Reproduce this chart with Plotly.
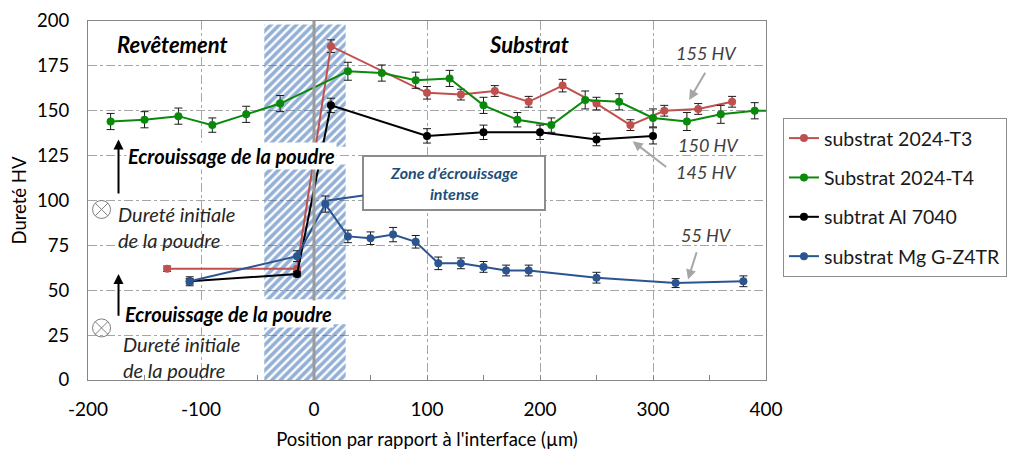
import plotly.graph_objects as go

# substrat 2024-T3
t3_x = [-130, -15, 15, 100, 130, 160, 190, 220, 250, 280, 310, 340, 370]
t3_y = [62, 62, 186, 160, 159, 161, 155, 164, 154, 142, 150, 151, 155]
t3_err = [1.5, 0, 3.5, 3.5, 3, 3, 3, 3.5, 3.5, 3, 3, 3, 3]

# Substrat 2024-T4
t4_x = [-180, -150, -120, -90, -60, -30, 30, 60, 90, 120, 150, 180, 210,
        240, 270, 300, 330, 360, 390, 420]
t4_y = [144, 145, 147, 142, 148, 154, 172, 171, 167, 168, 153, 145, 142,
        156, 155, 146, 144, 148, 150, 150]
t4_err = [4.5, 4.5, 4.5, 4, 4.5, 4.5, 5, 4.5, 4.5, 4.5, 4.5, 4, 4,
          5, 4.5, 5, 5, 5, 4.5, 4.5]

# subtrat Al 7040
al_x = [-110, -15, 15, 100, 150, 200, 250, 300]
al_y = [55, 59, 153, 136, 138, 138, 134, 136]
al_err = [1.5, 1.5, 4, 4, 4, 4, 3.5, 4.5]

# substrat Mg G-Z4TR
mg_x = [-110, -15, 10, 30, 50, 70, 90, 110, 130, 150, 170, 190, 250, 320, 380]
mg_y = [55, 69, 98, 80, 79, 81, 77, 65, 65, 63, 61, 61, 57, 54, 55]
mg_err = [2.5, 3, 4.5, 3.5, 3.5, 4, 3.5, 3.5, 3, 3, 3, 3, 3, 2.5, 3]

series = [
    ('substrat 2024-T3', t3_x, t3_y, t3_err, '#c0504d'),
    ('Substrat 2024-T4', t4_x, t4_y, t4_err, '#0a8a0a'),
    ('subtrat Al 7040', al_x, al_y, al_err, '#000000'),
    ('substrat Mg G-Z4TR', mg_x, mg_y, mg_err, '#2a5591'),
]

# hatched zone of intense work hardening, cut where the labels sit
zone_x = (-44, 28)
zone_bands = [(0, 31), (45, 120), (130, 198)]

FONT = 'Lato, Calibri, sans-serif'

fig = go.Figure()

hx, hy = [], []
for y0, y1 in zone_bands:
    hx += [zone_x[0], zone_x[1], zone_x[1], zone_x[0], zone_x[0], None]
    hy += [y0, y0, y1, y1, y0, None]
fig.add_trace(go.Scatter(
    x=hx, y=hy, mode='lines', fill='toself', line=dict(width=0),
    fillcolor='rgba(255,255,255,0)',
    fillpattern=dict(shape='/', fgcolor='#2a62ad',
                     bgcolor='rgba(255,255,255,0)', size=6, solidity=0.6),
    showlegend=False, hoverinfo='skip'))

for name, x, y, err, color in series:
    fig.add_trace(go.Scatter(
        x=x, y=y, name=name, legendgroup=name, mode='lines+markers',
        line=dict(color=color, width=2),
        marker=dict(color=color, size=8),
        error_y=dict(type='data', array=err, color='#1a1a1a',
                     thickness=1, width=4)))

# "dureté initiale" markers
fig.add_trace(go.Scatter(
    x=[-188, -188], y=[95, 29], mode='markers',
    marker=dict(symbol='circle-x-open', size=18, color='#7f7f7f',
                line=dict(width=1)),
    showlegend=False, hoverinfo='skip'))

shapes = [dict(type='line', x0=0, x1=0, y0=0, y1=200, xref='x', yref='y',
               line=dict(color='#9a9a9a', width=3))]

bold_it = dict(size=20, color='black')
hv_font = dict(size=18, color='#404040')
init_font = dict(size=20, color='#262626')

annotations = [
    dict(x=-125, y=187, text='<b><i>Revêtement</i></b>', showarrow=False,
         font=dict(size=22, color='black')),
    dict(x=190, y=187, text='<b><i>Substrat</i></b>', showarrow=False,
         font=dict(size=22, color='black')),
    dict(x=-73, y=125, text='<b><i>Ecrouissage de la poudre</i></b>',
         showarrow=False, bgcolor='white', font=bold_it),
    dict(x=-76, y=37, text='<b><i>Ecrouissage de la poudre</i></b>',
         showarrow=False, bgcolor='white', font=bold_it),
    dict(x=-173, y=134, ax=-173, ay=103, xref='x', yref='y', axref='x',
         ayref='y', text='', showarrow=True, arrowhead=2, arrowsize=1,
         arrowwidth=2, arrowcolor='black'),
    dict(x=-173, y=59, ax=-173, ay=35, xref='x', yref='y', axref='x',
         ayref='y', text='', showarrow=True, arrowhead=2, arrowsize=1,
         arrowwidth=2, arrowcolor='black'),
    dict(x=-175, y=85, text='<i>Dureté initiale<br>de la poudre</i>',
         showarrow=False, xanchor='left', align='left', font=init_font),
    dict(x=-171, y=13, text='<i>Dureté initiale<br>de la poudre</i>',
         showarrow=False, xanchor='left', align='left', font=init_font),
    dict(x=12, y=100, ax=124, ay=110, xref='x', yref='y', axref='x',
         ayref='y', text='<b><i>Zone d’écrouissage<br>intense</i></b>',
         showarrow=True, arrowhead=0, arrowwidth=2, arrowcolor='#2a5591',
         bgcolor='white', bordercolor='#8c8c8c', borderwidth=2,
         width=178, height=50,
         font=dict(size=16, color='#1f4e79')),
    dict(x=347, y=182, text='<i>155 HV</i>', showarrow=False, font=hv_font),
    dict(x=349, y=131, text='<i>150 HV</i>', showarrow=False, font=hv_font),
    dict(x=347, y=116, text='<i>145 HV</i>', showarrow=False, font=hv_font),
    dict(x=347, y=81, text='<i>55 HV</i>', showarrow=False, font=hv_font),
    dict(x=332, y=156, ax=347, ay=172, xref='x', yref='y', axref='x',
         ayref='y', text='', showarrow=True, arrowhead=2, arrowwidth=2,
         arrowcolor='#a6a6a6'),
    dict(x=282, y=133, ax=313, ay=118, xref='x', yref='y', axref='x',
         ayref='y', text='', showarrow=True, arrowhead=2, arrowwidth=2,
         arrowcolor='#a6a6a6'),
    dict(x=331, y=56, ax=339, ay=72, xref='x', yref='y', axref='x',
         ayref='y', text='', showarrow=True, arrowhead=2, arrowwidth=2,
         arrowcolor='#a6a6a6'),
]

x_ticks = [-200, -100, 0, 100, 200, 300, 400]
y_ticks = [0, 25, 50, 75, 100, 125, 150, 175, 200]

# the page body adds an 8 px margin, so the figure is 8 px smaller
fig.update_layout(
    width=1009, height=442,
    margin=dict(l=80, r=251, t=13, b=70, autoexpand=False),
    paper_bgcolor='white', plot_bgcolor='white',
    font=dict(family=FONT, size=19, color='black'),
    shapes=shapes, annotations=annotations,
    legend=dict(x=1.025, y=0.73, xanchor='left', yanchor='top',
                bordercolor='#8c8c8c', borderwidth=1, tracegroupgap=11,
                font=dict(size=19.5, color='#1a1a1a')),
    xaxis=dict(range=[-200, 400], tickvals=x_ticks,
               ticktext=[str(v) for v in x_ticks], automargin=False,
               showgrid=True, gridcolor='#a6a6a6', griddash='dashdot',
               gridwidth=1, zeroline=False, showline=True,
               linecolor='#868686', mirror=True,
               ticks='inside', ticklen=5, tickcolor='#868686',
               ticklabelstandoff=12, ticklabeloverflow='allow',
               minor=dict(dtick=50, ticks='inside', ticklen=5,
                          tickcolor='#868686', showgrid=False),
               title=dict(text="Position par rapport à l'interface (µm)",
                          standoff=14, font=dict(size=18.5))),
    yaxis=dict(range=[0, 200], tickvals=y_ticks, automargin=False,
               showgrid=True, gridcolor='#a6a6a6', griddash='dashdot',
               gridwidth=1, zeroline=False, showline=True,
               linecolor='#868686', mirror=True, ticks='',
               ticklabelstandoff=14, ticklabeloverflow='allow',
               tickfont=dict(size=18.5),
               title=dict(text='Dureté HV', standoff=6,
                          font=dict(size=18.5))),
)

fig.write_html('out.html')
